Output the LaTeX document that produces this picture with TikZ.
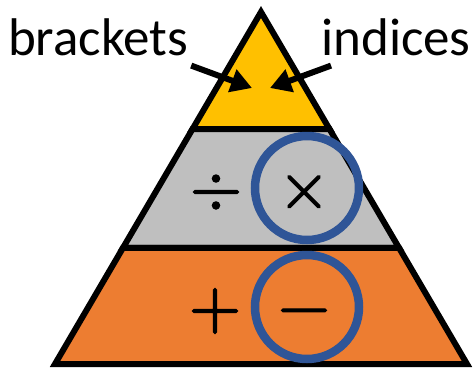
\documentclass[tikz,border=0pt]{standalone}
\usepackage{fontspec}
\setmainfont{Carlito}
\newfontfamily\opfont{Latin Modern Math}[FakeBold=2]
\usetikzlibrary{arrows.meta,calc}
\definecolor{tipyellow}{HTML}{FFC000}
\definecolor{midgray}{HTML}{BFBFBF}
\definecolor{baseorange}{HTML}{ED7D31}
\definecolor{ringblue}{HTML}{2F5597}
\begin{document}
\begin{tikzpicture}[x=1pt, y=-1pt,
  band/.style={draw=black, line width=6pt},
  lbl/.style={font=\fontsize{53}{53}\selectfont, inner sep=0pt, anchor=base},
  op/.style={font=\opfont\fontsize{67}{67}\selectfont, inner sep=0pt},
  ring/.style={draw=ringblue, line width=8.5pt, circle, minimum size=104pt, inner sep=0pt},
  arr/.style={line width=6pt, -{Triangle[length=21pt, width=23pt]}}]
\useasboundingbox (0,0) rectangle (475,368);
\coordinate (apex) at (261,12);
\coordinate (bl) at (55,364);
\coordinate (br) at (467,364);
\coordinate (l1) at ($(apex)!0.333!(bl)$);
\coordinate (r1) at ($(apex)!0.333!(br)$);
\coordinate (l2) at ($(apex)!0.67!(bl)$);
\coordinate (r2) at ($(apex)!0.67!(br)$);
\draw[band, fill=tipyellow] (apex) -- (l1) -- (r1) -- cycle;
\draw[band, fill=midgray] (l1) -- (l2) -- (r2) -- (r1) -- cycle;
\draw[band, fill=baseorange] (l2) -- (bl) -- (br) -- (r2) -- cycle;
% labels and pointers
\node[lbl] (brk) at (98,55) {brackets};
\node[lbl] (ind) at (396,55) {indices};
\coordinate (tipl) at (252,88);
\coordinate (tipr) at (270,88);
\draw[arr] ([shift={(3,10)}]brk.south east) -- (tipl);
\draw[arr] ([shift={(10,10)}]ind.south west) -- (tipr);
% operations
\node[ring] (ringmul) at (307,188) {};
\node[ring] (ringsub) at (307,307) {};
\node[op] (div) at (216,192) {÷};
\node[op] (mul) at (304,192) {×};
\node[op] (add) at (215,311) {+};
\node[op] (sub) at (304,318) {−};
\end{tikzpicture}
\end{document}
